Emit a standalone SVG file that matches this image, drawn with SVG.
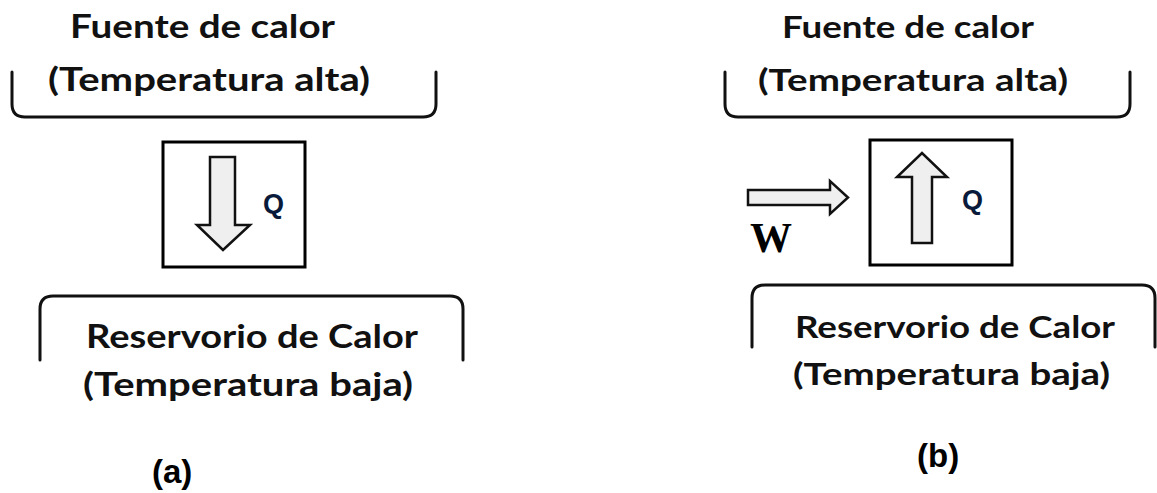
<svg xmlns="http://www.w3.org/2000/svg" width="1157" height="493" viewBox="0 0 1157 493">
  <style>
    .lbl { font-family: Lato, "Open Sans", "Liberation Sans", sans-serif; font-weight: 700; fill: #111; }
    .big { font-size: 32px; }
    .mid { font-size: 30.5px; }
    .bracket { fill: none; stroke: #111; stroke-width: 3; stroke-linecap: round; }
    .box { fill: #fff; stroke: #000; stroke-width: 3; }
    .arrow { fill: #efefef; stroke: #111; stroke-width: 2.5; stroke-linejoin: miter; }
    .q { font-family: "Liberation Sans", Arial, sans-serif; font-weight: 700; font-size: 27px; fill: #0a1a3a; }
    .tag { font-family: "Liberation Sans", Arial, sans-serif; font-weight: 700; font-size: 33px; fill: #000; }
    .w { font-family: "Liberation Serif", "Times New Roman", serif; font-weight: 700; font-size: 42px; fill: #000; }
  </style>
  <rect width="1157" height="493" fill="#fff"/>

  <!-- (a) heat engine -->
  <g id="hot-source-a">
    <text class="lbl big" x="70" y="38" textLength="265" lengthAdjust="spacingAndGlyphs">Fuente de calor</text>
    <text class="lbl big" x="48" y="91" textLength="322" lengthAdjust="spacingAndGlyphs">(Temperatura alta)</text>
    <path class="bracket" d="M12,72 V104 Q12,117 25,117 H423 Q436,117 436,104 V72"/>
  </g>
  <g id="engine-a">
    <rect class="box" x="163" y="142" width="142" height="125"/>
    <path class="arrow" d="M210,157 H235 V225 H250 L223,250 L197,225 H210 Z"/>
    <text class="q" x="263" y="213">Q</text>
  </g>
  <g id="cold-reservoir-a">
    <path class="bracket" d="M40,360 V309 Q40,296 53,296 H450 Q463,296 463,309 V360"/>
    <text class="lbl big" x="86" y="348" textLength="332" lengthAdjust="spacingAndGlyphs">Reservorio de Calor</text>
    <text class="lbl big" x="83" y="396" textLength="330" lengthAdjust="spacingAndGlyphs">(Temperatura baja)</text>
  </g>
  <g id="caption-a">
    <text class="tag" x="152" y="483">(a)</text>
  </g>

  <!-- (b) heat pump -->
  <g id="hot-source-b">
    <text class="lbl mid" x="782" y="38" textLength="252" lengthAdjust="spacingAndGlyphs">Fuente de calor</text>
    <text class="lbl mid" x="758" y="91" textLength="310" lengthAdjust="spacingAndGlyphs">(Temperatura alta)</text>
    <path class="bracket" d="M725,72 V104 Q725,117 738,117 H1117 Q1130,117 1130,104 V72"/>
  </g>
  <g id="pump-b">
    <rect class="box" x="870" y="140" width="142" height="125"/>
    <path class="arrow" d="M912,243 V177 H897 L922,153 L947,177 H932 V243 Z"/>
    <text class="q" x="962" y="209">Q</text>
  </g>
  <g id="cold-reservoir-b">
    <path class="bracket" d="M752,347 V298 Q752,285 765,285 H1142 Q1155,285 1155,298 V347"/>
    <text class="lbl mid" x="795" y="338" textLength="320" lengthAdjust="spacingAndGlyphs">Reservorio de Calor</text>
    <text class="lbl mid" x="793" y="385" textLength="317" lengthAdjust="spacingAndGlyphs">(Temperatura baja)</text>
  </g>
  <g id="caption-b">
    <text class="tag" x="917" y="467">(b)</text>
  </g>

  <!-- work input into the pump -->
  <g id="connectors">
    <path class="arrow" d="M748,190 H830 V181 L848,197.5 L830,214 V205 H748 Z"/>
    <text class="w" x="750" y="252">W</text>
  </g>
</svg>
